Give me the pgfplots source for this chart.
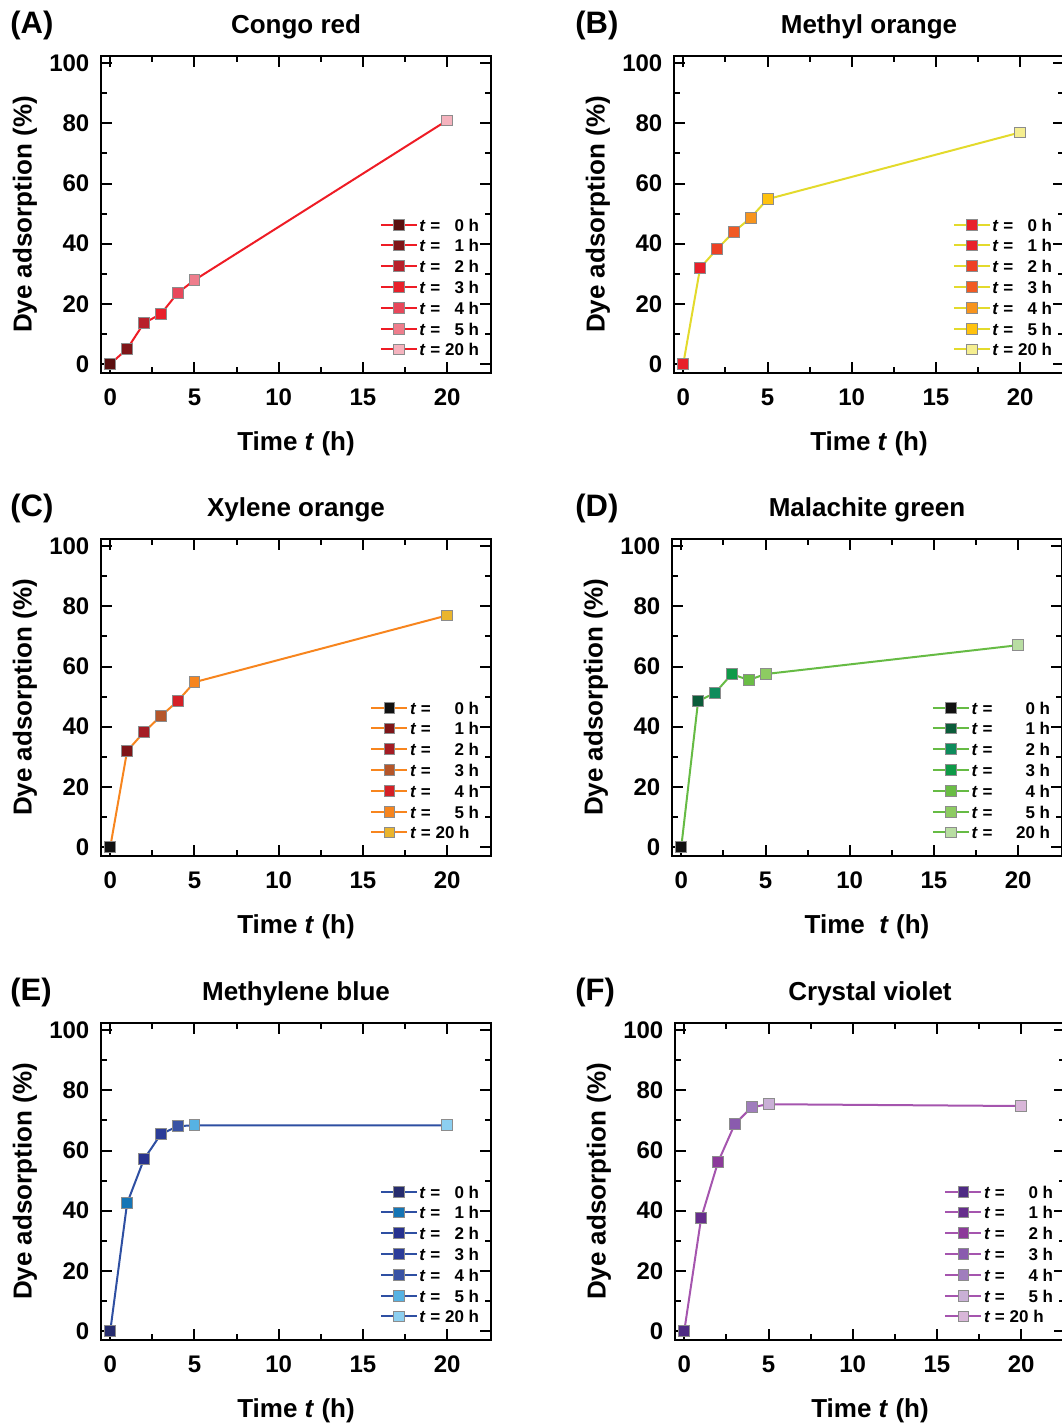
\documentclass[border=0pt]{standalone}
\usepackage{fontspec}
\setmainfont{Liberation Sans}
\usepackage{pgfplots}
\pgfplotsset{compat=1.18}

% line colours
\definecolor{lA}{HTML}{EE1C25}
\definecolor{lB}{HTML}{E3DA2C}
\definecolor{lC}{HTML}{F7851E}
\definecolor{lD}{HTML}{66BB44}
\definecolor{lE}{HTML}{2E4FA2}
\definecolor{lF}{HTML}{A555AE}
% marker colours
\definecolor{a0}{HTML}{5A0F0F}\definecolor{a1}{HTML}{7F1518}\definecolor{a2}{HTML}{B8202A}
\definecolor{a3}{HTML}{E8202A}\definecolor{a4}{HTML}{E8475A}\definecolor{a5}{HTML}{EE7D8C}\definecolor{a6}{HTML}{F5B3BE}
\definecolor{b0}{HTML}{E8202A}\definecolor{b1}{HTML}{E8202A}\definecolor{b2}{HTML}{EE4124}
\definecolor{b3}{HTML}{F15A24}\definecolor{b4}{HTML}{F7941D}\definecolor{b5}{HTML}{FFC20E}\definecolor{b6}{HTML}{F5EE90}
\definecolor{c0}{HTML}{111111}\definecolor{c1}{HTML}{7F1518}\definecolor{c2}{HTML}{A51C24}
\definecolor{c3}{HTML}{B5562A}\definecolor{c4}{HTML}{D42027}\definecolor{c5}{HTML}{F7851E}\definecolor{c6}{HTML}{EAB52E}
\definecolor{d0}{HTML}{111111}\definecolor{d1}{HTML}{0B5C3A}\definecolor{d2}{HTML}{0E8C5C}
\definecolor{d3}{HTML}{0E9A48}\definecolor{d4}{HTML}{6ABD45}\definecolor{d5}{HTML}{8DCB62}\definecolor{d6}{HTML}{B8DDA2}
\definecolor{e0}{HTML}{262C6E}\definecolor{e1}{HTML}{1575B5}\definecolor{e2}{HTML}{27328F}
\definecolor{e3}{HTML}{2B3C98}\definecolor{e4}{HTML}{3953A4}\definecolor{e5}{HTML}{56B2E3}\definecolor{e6}{HTML}{8CCFF0}
\definecolor{f0}{HTML}{4E2A84}\definecolor{f1}{HTML}{662D8C}\definecolor{f2}{HTML}{8C3A9A}
\definecolor{f3}{HTML}{8A5BAE}\definecolor{f4}{HTML}{A07DBD}\definecolor{f5}{HTML}{C9B0D6}\definecolor{f6}{HTML}{D8B6D8}

\pgfplotsset{
  panel/.style={
    scale only axis, width=195pt, height=158.5pt,
    xmin=-0.55, xmax=22.6, ymin=-3, ymax=102.4,
    xtick={0,5,10,15,20}, ytick={0,20,40,60,80,100},
    minor x tick num=1, minor y tick num=1,
    tick align=inside, major tick length=5.5pt, minor tick length=3pt,
    every tick/.style={black, line width=1pt},
    axis line style={line width=1.2pt},
    /pgf/number format/assume math mode=true,
    tick label style={font=\fontsize{12}{14}\selectfont\bfseries},
    xticklabel style={yshift=-4.5pt},
    yticklabel style={xshift=-2.3pt},
    label style={font=\fontsize{13}{15}\selectfont\bfseries},
    xlabel={Time \textit{t} (h)},
    ylabel={Dye adsorption (\%)},
    xlabel style={at={(axis description cs:0.5,-0.222)}, anchor=center},
    ylabel style={at={(axis description cs:-0.195,0.5)}, anchor=center},
    title style={font=\fontsize{13}{15}\selectfont\bfseries, at={(axis description cs:0.5,1)}, anchor=base, yshift=5.5pt},
    legend cell align=left,
    legend image code/.code={\draw[mark repeat=2, mark phase=2] plot coordinates {(0pt,0pt) (9pt,0pt) (18pt,0pt)};},
    legend style={draw=none, fill=none, at={(axis description cs:0.99,0.035)}, anchor=south east,
      font=\fontsize{8.5}{10}\selectfont\bfseries, row sep=2.3pt,
      nodes={inner sep=0.8pt, text height=6.5pt, text depth=0pt},
      /tikz/every even column/.style={column sep=3.5pt}},
  },
}
\newcommand\pt[4]{\addplot[#1, line width=1pt, mark=square*, mark size=2.7pt,
  mark options={solid, fill=#2, draw=black!45, line width=0.4pt}] coordinates {#3}; \addlegendentry{#4}}
\newcommand\ti[1]{\textit{t} = #1 h}
\newcommand\plab[1]{\node[anchor=base west, inner sep=0pt, font=\fontsize{15.5}{17}\selectfont\bfseries]}

\begin{document}
\begin{tikzpicture}
\useasboundingbox (0,0) rectangle (530.5pt,-712pt);

% (A)
\plab{} at (5pt,-16.5pt) {(A)};
\begin{axis}[panel, at={(50.5pt,-28pt)}, anchor=north west, title={Congo red}]
\addplot[lA, line width=1pt, forget plot] coordinates {(0,0) (1,5) (2,13.6) (3,16.6) (4,23.6) (5,27.9) (20,81)};
\pt{lA}{a0}{(0,0)}{\ti{\phantom{2}0}}
\pt{lA}{a1}{(1,5)}{\ti{\phantom{2}1}}
\pt{lA}{a2}{(2,13.6)}{\ti{\phantom{2}2}}
\pt{lA}{a3}{(3,16.6)}{\ti{\phantom{2}3}}
\pt{lA}{a4}{(4,23.6)}{\ti{\phantom{2}4}}
\pt{lA}{a5}{(5,27.9)}{\ti{\phantom{2}5}}
\pt{lA}{a6}{(20,81)}{\ti{20}}
\end{axis}

% (B)
\plab{} at (287.5pt,-16.5pt) {(B)};
\begin{axis}[panel, at={(337pt,-28pt)}, anchor=north west, title={Methyl orange}]
\addplot[lB, line width=1pt, forget plot] coordinates {(0,0) (1,31.9) (2,38.2) (3,43.9) (4,48.6) (5,54.8) (20,77)};
\pt{lB}{b0}{(0,0)}{\ti{\phantom{2}0}}
\pt{lB}{b1}{(1,31.9)}{\ti{\phantom{2}1}}
\pt{lB}{b2}{(2,38.2)}{\ti{\phantom{2}2}}
\pt{lB}{b3}{(3,43.9)}{\ti{\phantom{2}3}}
\pt{lB}{b4}{(4,48.6)}{\ti{\phantom{2}4}}
\pt{lB}{b5}{(5,54.8)}{\ti{\phantom{2}5}}
\pt{lB}{b6}{(20,77)}{\ti{20}}
\end{axis}

% (C)
\plab{} at (5pt,-258pt) {(C)};
\begin{axis}[panel, at={(50.5pt,-269.5pt)}, anchor=north west, title={Xylene orange}]
\addplot[lC, line width=1pt, forget plot] coordinates {(0,0) (1,31.9) (2,38.2) (3,43.5) (4,48.5) (5,54.8) (20,77)};
\pt{lC}{c0}{(0,0)}{\ti{\phantom{22}0}}
\pt{lC}{c1}{(1,31.9)}{\ti{\phantom{22}1}}
\pt{lC}{c2}{(2,38.2)}{\ti{\phantom{22}2}}
\pt{lC}{c3}{(3,43.5)}{\ti{\phantom{22}3}}
\pt{lC}{c4}{(4,48.5)}{\ti{\phantom{22}4}}
\pt{lC}{c5}{(5,54.8)}{\ti{\phantom{22}5}}
\pt{lC}{c6}{(20,77)}{\ti{20}}
\end{axis}

% (D)
\plab{} at (287.5pt,-258pt) {(D)};
\begin{axis}[panel, at={(336pt,-269.5pt)}, anchor=north west, title={Malachite green},
  xlabel={Time\ \ \textit{t} (h)}]
\addplot[lD, line width=1pt, forget plot] coordinates {(0,0) (1,48.5) (2,51.2) (3,57.5) (4,55.5) (5,57.5) (20,67.1)};
\pt{lD}{d0}{(0,0)}{\textit{t} =\phantom{22}\ \ \ 0 h}
\pt{lD}{d1}{(1,48.5)}{\textit{t} =\phantom{22}\ \ \ 1 h}
\pt{lD}{d2}{(2,51.2)}{\textit{t} =\phantom{22}\ \ \ 2 h}
\pt{lD}{d3}{(3,57.5)}{\textit{t} =\phantom{22}\ \ \ 3 h}
\pt{lD}{d4}{(4,55.5)}{\textit{t} =\phantom{22}\ \ \ 4 h}
\pt{lD}{d5}{(5,57.5)}{\textit{t} =\phantom{22}\ \ \ 5 h}
\pt{lD}{d6}{(20,67.1)}{\textit{t} =\phantom{2}\ \ \ 20 h}
\end{axis}

% (E)
\plab{} at (5pt,-500pt) {(E)};
\begin{axis}[panel, at={(50.5pt,-511.5pt)}, anchor=north west, title={Methylene blue}]
\addplot[lE, line width=1pt, forget plot] coordinates {(0,0) (1,42.5) (2,57.1) (3,65.4) (4,68.1) (5,68.4) (20,68.4)};
\pt{lE}{e0}{(0,0)}{\ti{\phantom{2}0}}
\pt{lE}{e1}{(1,42.5)}{\ti{\phantom{2}1}}
\pt{lE}{e2}{(2,57.1)}{\ti{\phantom{2}2}}
\pt{lE}{e3}{(3,65.4)}{\ti{\phantom{2}3}}
\pt{lE}{e4}{(4,68.1)}{\ti{\phantom{2}4}}
\pt{lE}{e5}{(5,68.4)}{\ti{\phantom{2}5}}
\pt{lE}{e6}{(20,68.4)}{\ti{20}}
\end{axis}

% (F)
\plab{} at (287.5pt,-500pt) {(F)};
\begin{axis}[panel, at={(337.5pt,-511.5pt)}, anchor=north west, title={Crystal violet}]
\addplot[lF, line width=1pt, forget plot] coordinates {(0,0) (1,37.5) (2,56.1) (3,68.8) (4,74.4) (5,75.4) (20,74.8)};
\pt{lF}{f0}{(0,0)}{\ti{\phantom{22}0}}
\pt{lF}{f1}{(1,37.5)}{\ti{\phantom{22}1}}
\pt{lF}{f2}{(2,56.1)}{\ti{\phantom{22}2}}
\pt{lF}{f3}{(3,68.8)}{\ti{\phantom{22}3}}
\pt{lF}{f4}{(4,74.4)}{\ti{\phantom{22}4}}
\pt{lF}{f5}{(5,75.4)}{\ti{\phantom{22}5}}
\pt{lF}{f6}{(20,74.8)}{\ti{20}}
\end{axis}
\end{tikzpicture}
\end{document}
